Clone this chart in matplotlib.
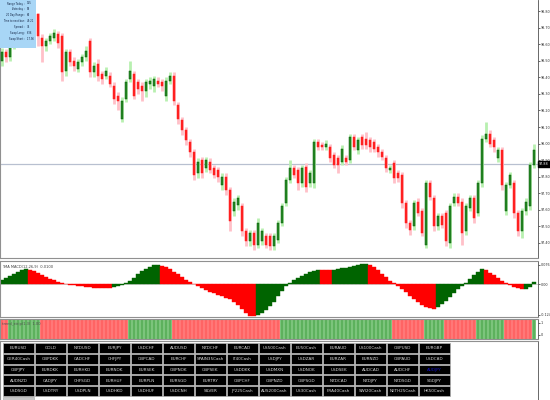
import matplotlib
matplotlib.use("Agg")
import matplotlib.pyplot as plt
from matplotlib.patches import Rectangle

# ---------------- data ----------------
opens = [98.50, 98.55, 98.52, 98.59, 98.65, 98.62, 98.70, 98.75, 98.72, 98.78,
         98.64, 98.59, 98.62, 98.64, 98.66, 98.65, 98.44, 98.55, 98.50, 98.45,
         98.49, 98.52, 98.62, 98.43, 98.48, 98.42, 98.41, 98.41, 98.35, 98.29,
         98.15, 98.27, 98.39, 98.42, 98.37, 98.35, 98.32, 98.36, 98.35, 98.38,
         98.37, 98.29, 98.38, 98.41, 98.23, 98.14, 98.08, 98.01, 97.95, 97.82,
         97.90, 97.85, 97.89, 97.85, 97.84, 97.75, 97.80, 97.72, 97.59, 97.63,
         97.62, 97.47, 97.41, 97.46, 97.39, 97.41, 97.44, 97.44, 97.38, 97.42,
         97.52, 97.64, 97.78, 97.85, 97.84, 97.76, 97.86, 97.76, 97.76, 98.01,
         97.99, 97.98, 97.98, 97.93, 97.91, 97.89, 97.91, 97.90, 98.04, 97.96,
         98.04, 98.03, 98.02, 98.01, 97.98, 97.95, 97.91, 97.84, 97.88, 97.82,
         97.81, 97.64, 97.52, 97.50, 97.65, 97.59, 97.39, 97.76, 97.67, 97.50,
         97.56, 97.58, 97.40, 97.64, 97.68, 97.65, 97.47, 97.61, 97.67, 97.58,
         97.76, 98.03, 98.06, 98.02, 97.91, 97.96, 97.59, 97.75, 97.76, 97.58,
         97.47, 97.59, 97.62, 97.87]
closes = [98.55, 98.52, 98.59, 98.65, 98.62, 98.70, 98.75, 98.72, 98.78, 98.65,
          98.59, 98.62, 98.65, 98.67, 98.61, 98.43, 98.55, 98.49, 98.47, 98.49,
          98.52, 98.56, 98.43, 98.47, 98.41, 98.39, 98.44, 98.36, 98.27, 98.26,
          98.26, 98.37, 98.44, 98.29, 98.33, 98.32, 98.37, 98.38, 98.39, 98.36,
          98.35, 98.38, 98.41, 98.26, 98.15, 98.08, 98.02, 97.95, 97.81, 97.89,
          97.82, 97.90, 97.84, 97.81, 97.80, 97.80, 97.72, 97.53, 97.65, 97.67,
          97.47, 97.41, 97.46, 97.39, 97.52, 97.47, 97.39, 97.38, 97.44, 97.52,
          97.62, 97.78, 97.85, 97.81, 97.76, 97.85, 97.74, 97.82, 98.01, 97.98,
          97.98, 98.00, 97.91, 97.87, 97.87, 97.97, 97.89, 98.04, 97.98, 98.02,
          97.99, 97.99, 97.98, 97.97, 97.95, 97.92, 97.85, 97.85, 97.79, 97.79,
          97.64, 97.52, 97.48, 97.64, 97.58, 97.46, 97.76, 97.68, 97.50, 97.56,
          97.51, 97.41, 97.62, 97.68, 97.64, 97.46, 97.62, 97.67, 97.55, 97.76,
          98.03, 98.06, 98.00, 97.98, 97.96, 97.75, 97.75, 97.81, 97.58, 97.47,
          97.59, 97.65, 97.87, 97.96]
highs = [98.58, 98.57, 98.61, 98.67, 98.67, 98.72, 98.77, 98.77, 98.80, 98.79,
         98.66, 98.64, 98.67, 98.69, 98.68, 98.67, 98.57, 98.57, 98.52, 98.51,
         98.54, 98.59, 98.64, 98.49, 98.51, 98.44, 98.46, 98.43, 98.37, 98.31,
         98.28, 98.39, 98.50, 98.44, 98.39, 98.37, 98.39, 98.40, 98.41, 98.40,
         98.39, 98.40, 98.43, 98.43, 98.25, 98.16, 98.10, 98.03, 97.97, 97.91,
         97.92, 97.92, 97.91, 97.87, 97.86, 97.82, 97.82, 97.74, 97.67, 97.69,
         97.64, 97.49, 97.48, 97.48, 97.55, 97.49, 97.46, 97.46, 97.46, 97.54,
         97.64, 97.80, 97.90, 97.87, 97.86, 97.87, 97.88, 97.84, 98.03, 98.03,
         98.01, 98.02, 98.00, 97.95, 97.93, 97.99, 97.93, 98.06, 98.06, 98.04,
         98.06, 98.07, 98.04, 98.03, 98.00, 97.97, 97.93, 97.87, 97.90, 97.84,
         97.83, 97.66, 97.54, 97.66, 97.67, 97.61, 97.78, 97.78, 97.69, 97.58,
         97.58, 97.60, 97.64, 97.70, 97.70, 97.67, 97.64, 97.69, 97.69, 97.78,
         98.05, 98.13, 98.08, 98.04, 97.98, 97.98, 97.77, 97.83, 97.78, 97.60,
         97.61, 97.67, 97.89, 98.00]
lows = [98.47, 98.49, 98.50, 98.57, 98.60, 98.60, 98.68, 98.70, 98.70, 98.59,
        98.49, 98.56, 98.60, 98.62, 98.58, 98.38, 98.41, 98.47, 98.44, 98.43,
        98.47, 98.50, 98.40, 98.40, 98.38, 98.36, 98.39, 98.34, 98.24, 98.20,
        98.13, 98.25, 98.37, 98.27, 98.30, 98.26, 98.28, 98.33, 98.31, 98.34,
        98.32, 98.26, 98.36, 98.23, 98.12, 98.05, 97.99, 97.92, 97.78, 97.79,
        97.79, 97.83, 97.82, 97.79, 97.77, 97.72, 97.69, 97.47, 97.56, 97.60,
        97.44, 97.38, 97.38, 97.36, 97.37, 97.39, 97.37, 97.36, 97.36, 97.40,
        97.50, 97.62, 97.76, 97.79, 97.72, 97.74, 97.71, 97.74, 97.73, 97.96,
        97.96, 97.96, 97.89, 97.85, 97.82, 97.87, 97.87, 97.88, 97.96, 97.94,
        97.97, 97.97, 97.95, 97.95, 97.92, 97.90, 97.83, 97.82, 97.76, 97.77,
        97.61, 97.49, 97.45, 97.48, 97.56, 97.44, 97.37, 97.66, 97.47, 97.48,
        97.49, 97.38, 97.37, 97.62, 97.62, 97.39, 97.45, 97.59, 97.52, 97.56,
        97.74, 98.01, 97.98, 97.95, 97.89, 97.72, 97.57, 97.73, 97.55, 97.44,
        97.43, 97.57, 97.60, 97.85]

macd = [0.018, 0.026, 0.034, 0.042, 0.050, 0.056, 0.060, 0.058, 0.052, 0.044,
        0.036, 0.028, 0.022, 0.016, 0.010, 0.006, 0.002, -0.002, -0.0048, -0.0072,
        -0.0092, -0.0112, -0.0128, -0.014, -0.0152, -0.016, -0.0168, -0.0172, -0.012, -0.006,
        -0.002, 0.004, 0.014, 0.026, 0.040, 0.052, 0.062, 0.070, 0.0748, 0.076,
        0.074, 0.068, 0.060, 0.050, 0.040, 0.028, 0.018, 0.010, 0.002, -0.006,
        -0.014, -0.022, -0.030, -0.036, -0.042, -0.048, -0.054, -0.060, -0.070, -0.084,
        -0.100, -0.116, -0.126, -0.1292, -0.124, -0.114, -0.102, -0.088, -0.070, -0.048,
        -0.026, -0.008, 0.006, 0.018, 0.026, 0.034, 0.042, 0.048, 0.054, 0.058,
        0.0568, 0.056, 0.0552, 0.0568, 0.060, 0.0632, 0.066, 0.0688, 0.072, 0.076,
        0.0788, 0.080, 0.076, 0.068, 0.056, 0.042, 0.028, 0.014, 0.0032, -0.008,
        -0.020, -0.032, -0.046, -0.060, -0.072, -0.082, -0.090, -0.096, -0.100, -0.092,
        -0.080, -0.066, -0.052, -0.036, -0.020, -0.006, 0.006, 0.020, 0.036, 0.050,
        0.060, 0.056, 0.046, 0.036, 0.024, 0.014, 0.006, -0.002, -0.010, -0.016,
        -0.020, -0.018, -0.010, 0.010]

trend = ("RR" + "G" * 8 + "R" * 22 + "G" * 11 + "R" * 27 + "G" * 28 +
         "R" * 8 + "G" * 5 + "R" * 8 + "G" * 7 + "R" * 7 + "G")

price_ticks = [98.80, 98.70, 98.60, 98.50, 98.40, 98.30, 98.20, 98.10, 98.00,
               97.90, 97.80, 97.70, 97.60, 97.50, 97.40]
current_price = 97.875

info_labels = ["Range Today :", "Yesterday :", "20 Day Range :", "Time to next bar :",
               "Spread :", "Swap Long :", "Swap Short :"]
info_values = ["155", "89", "86", "45:21", "34", "6.36", "-17.96"]

buttons = [
    ["EURUSD", "GOLD", "NZDUSD", "EURJPY", "USDCHF", "AUDUSD", "NZDCHF", "EURCAD",
     "US500Cash", "EU50Cash", "EURAUD", "US100Cash", "GBPUSD", "EURGBP"],
    ["GER40Cash", "GBPDKK", "CADCHF", "CHFJPY", "GBPCAD", "EURCHF", "SPAIN35Cash", "IT40Cash",
     "USDJPY", "USDZAR", "EURZAR", "EURNZD", "GBPAUD", "USDCAD"],
    ["GBPJPY", "EURDKK", "EURHKD", "EURNOK", "EURSEK", "GBPNOK", "GBPSEK", "USDDKK",
     "USDMXN", "USDNOK", "USDSEK", "AUDCAD", "AUDCHF", "AUDJPY"],
    ["AUDNZD", "CADJPY", "CHFSGD", "EURHUF", "EURPLN", "EURSGD", "EURTRY", "GBPCHF",
     "GBPNZD", "GBPSGD", "NZDCAD", "NZDJPY", "NZDSGD", "SGDJPY"],
    ["USDSGD", "USDTRY", "USDPLN", "USDHKD", "USDHUF", "USDCNH", "SILVER", "JP225Cash",
     "AUS200Cash", "US30Cash", "FRA40Cash", "SWI20Cash", "NETH25Cash", "HK50Cash"],
]
active_symbol = "AUDJPY"

# ---------------- figure ----------------
W, H = 550, 400
fig = plt.figure(figsize=(5.5, 4), dpi=100)
fig.patch.set_facecolor("white")


def add_ax(x0, y0, x1, y1, **kw):
    return fig.add_axes([x0 / W, 1 - y1 / H, (x1 - x0) / W, (y1 - y0) / H], **kw)


GRAY = "#909090"
n = len(closes)
xs = list(range(n))
XLIM = (-0.5, 134.0)
LBL = 2.4


def style_panel(ax):
    ax.set_xlim(*XLIM)
    ax.set_xticks([])
    ax.yaxis.tick_right()
    ax.tick_params(axis="y", labelsize=LBL, length=1.2, width=0.5, pad=0.6,
                   colors="#303030")
    for s in ["left", "bottom", "top"]:
        ax.spines[s].set_color(GRAY)
        ax.spines[s].set_linewidth(0.8)
    ax.spines["right"].set_color("#505050")
    ax.spines["right"].set_linewidth(0.6)


# main price panel
ax = add_ax(0, 0, 538, 258)
style_panel(ax)
ax.spines["top"].set_visible(False)
ax.set_ylim(97.309, 98.867)
ax.set_yticks(price_ticks)
ax.set_yticklabels([f"{p:.2f}" for p in price_ticks])

ax.axhline(current_price, color="#b8c0d0", lw=0.9, zorder=1)
for i in xs:
    up = closes[i] >= opens[i]
    wick_c = "#b8f0b0" if up else "#ffc0c8"
    body_c = "#2a8a2a" if up else "#ff2020"
    edge_c = "#005a00" if up else "#ff2020"
    ax.vlines(i, lows[i], highs[i], color=wick_c, lw=2.0, zorder=2)
    h = closes[i] - opens[i]
    if abs(h) < 0.005:
        h = 0.005 if up else -0.005
    ax.bar(i, h, bottom=opens[i], width=0.42, color=body_c,
           edgecolor=edge_c, linewidth=0.35, zorder=3)

ax.annotate(f"{current_price:.2f}", xy=(1.0, current_price),
            xycoords=("axes fraction", "data"), xytext=(0.8, 0),
            textcoords="offset points", ha="left", va="center",
            fontsize=LBL, color="white", zorder=10, annotation_clip=False,
            bbox=dict(boxstyle="square,pad=0.3", fc="black", ec="black"))

# indicator panel
ax2 = add_ax(0, 261, 538, 317)
style_panel(ax2)
ax2.set_ylim(-0.132, 0.092)
ax2.set_yticks([0.076, 0.0, -0.124])
ax2.set_yticklabels(["0.076", "0.00", "-0.124"])
cols = []
for i in xs:
    rising = i == 0 or macd[i] >= macd[i - 1]
    cols.append("#006400" if rising else "#ff0000")
ax2.bar(xs, macd, width=1.0, color=cols, edgecolor=cols, linewidth=0.3)
ax2.axhline(0, color="#c0c0c0", lw=0.5, zorder=0)
ax2.text(0.004, 0.93, "TMA MACD(12,26,9)  0.0100", transform=ax2.transAxes,
         fontsize=2.6, color="#404040", va="top", ha="left")

# trend strip panel
ax3 = add_ax(0, 319, 538, 339)
style_panel(ax3)
ax3.set_ylim(0, 1.0)
ax3.set_yticks([0.8, 0.2])
ax3.set_yticklabels(["1", "0"])
light = ["#7cc47c" if t == "G" else "#ff7878" for t in trend]
dark = ["#007800" if t == "G" else "#ff2828" for t in trend]
ax3.bar(xs, [1.0] * n, width=0.82, color=light, linewidth=0)
ax3.vlines(xs, 0, 1.0, colors=dark, lw=0.35)
ax3.text(0.004, 0.85, "trend_strip(1,3)  1.00", transform=ax3.transAxes,
         fontsize=2.6, color="#505050", va="top", ha="left")

# empty bottom panel (behind buttons)
ax4 = add_ax(0, 341, 538, 400)
ax4.set_xticks([])
ax4.set_yticks([])
for s in ["left", "top", "bottom"]:
    ax4.spines[s].set_color(GRAY)
    ax4.spines[s].set_linewidth(0.8)
ax4.spines["bottom"].set_visible(False)
ax4.spines["right"].set_color("#505050")
ax4.spines["right"].set_linewidth(0.6)

# overlay for info box and buttons
ov = add_ax(0, 0, 550, 400)
ov.set_xlim(0, W)
ov.set_ylim(H, 0)
ov.axis("off")
ov.patch.set_alpha(0)

ov.add_patch(Rectangle((0, 0), 36, 48, fc="#a8d6f6", ec="none"))
for k, (lab, val) in enumerate(zip(info_labels, info_values)):
    yy = 3.5 + k * 5.9
    ov.text(25.0, yy, lab, fontsize=1.8, color="#102040", ha="right", va="center")
    ov.text(26.5, yy, val, fontsize=1.8, color="#102040", ha="left", va="center")

bw, bh = 31.0, 9.8
for r, row in enumerate(buttons):
    for c, name in enumerate(row):
        x0 = 3 + 32 * c
        y0 = 343 + 10.8 * r
        ov.add_patch(Rectangle((x0, y0), bw, bh, fc="black", ec="#b0b0b0", lw=0.5))
        tc = "#1010c0" if name == active_symbol else "#d8d8d8"
        ov.text(x0 + bw / 2, y0 + bh / 2 + 0.3, name, fontsize=3.0, color=tc,
                ha="center", va="center")
ov.add_patch(Rectangle((3, 397), 31, 4, fc="#c8c8c8", ec="#b0b0b0", lw=0.5))

fig.savefig("out.png", dpi=100)
